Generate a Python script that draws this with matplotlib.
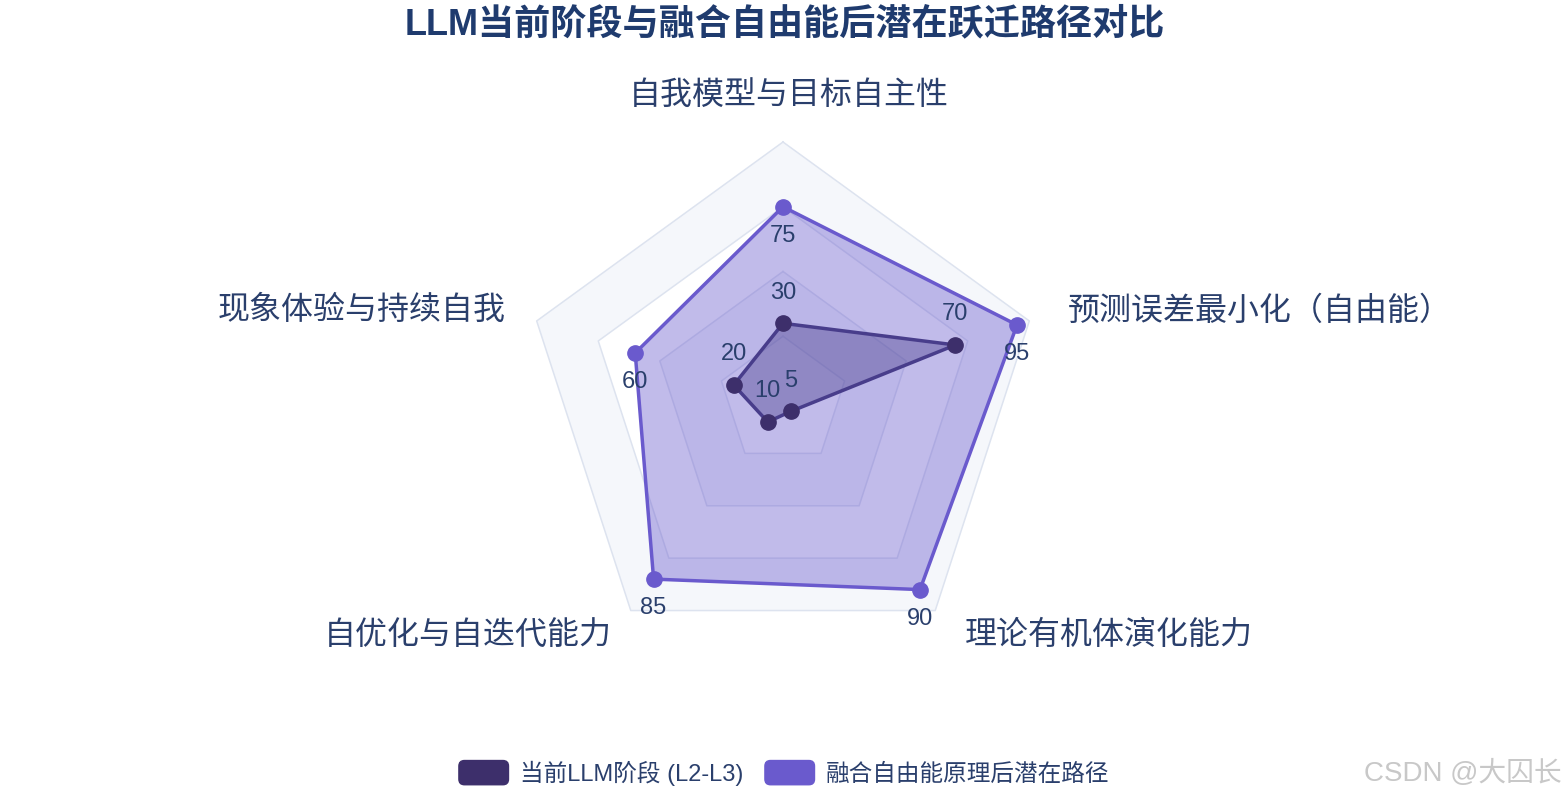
import numpy as np
import matplotlib
matplotlib.use("Agg")
import matplotlib.pyplot as plt
from matplotlib.patches import Patch, FancyBboxPatch
from matplotlib.legend_handler import HandlerPatch

plt.rcParams['font.family'] = ['Liberation Sans', 'Noto Sans CJK SC', 'DejaVu Sans']

# data
categories = ["自我模型与目标自主性", "预测误差最小化（自由能）", "理论有机体演化能力",
              "自优化与自迭代能力", "现象体验与持续自我"]
current = [30, 70, 5, 10, 20]
potential = [75, 95, 90, 85, 60]
series_names = ["当前LLM阶段 (L2-L3)", "融合自由能原理后潜在路径"]
grid_levels = [25, 50, 75, 100]

title = "LLM当前阶段与融合自由能后潜在跃迁路径对比"
text_col = "#2a3f6c"
c_cur_line = "#483d8b"
c_cur_mark = "#3d2f6b"
c_pot = "#6a5acd"

n = len(categories)
theta = np.deg2rad(90 - 72 * np.arange(n))


def to_xy(vals):
    v = np.asarray(vals, dtype=float)
    return v * np.cos(theta), v * np.sin(theta)


fig = plt.figure(figsize=(15.68, 8), dpi=100)
ax = fig.add_axes([0, 0, 1, 1])
scale = 2.59  # pixels per unit
ax.set_xlim(-783 / scale, (1568 - 783) / scale)
ax.set_ylim(-399 / scale, 401 / scale)
ax.axis("off")

# background bands + grid
band_cols = {100: "#f5f7fb", 75: "white", 50: "#f5f7fb", 25: "white"}
for lv in grid_levels[::-1]:
    gx, gy = to_xy([lv] * n)
    ax.fill(gx, gy, color=band_cols[lv], zorder=0, lw=0)
for lv in grid_levels:
    gx, gy = to_xy([lv] * n)
    ax.plot(np.append(gx, gx[0]), np.append(gy, gy[0]), color="#dde3ef", lw=1.1, zorder=1)

# potential series
px, py = to_xy(potential)
ax.fill(px, py, color=c_pot, alpha=0.41, lw=0, zorder=2)
ax.plot(np.append(px, px[0]), np.append(py, py[0]), color=c_pot, lw=2.5, zorder=4)
ax.plot(px, py, "o", color=c_pot, ms=11, zorder=5)

# current series
cx, cy = to_xy(current)
ax.fill(cx, cy, color=c_cur_line, alpha=0.4, lw=0, zorder=3)
ax.plot(np.append(cx, cx[0]), np.append(cy, cy[0]), color=c_cur_line, lw=2.5, zorder=6)
ax.plot(cx, cy, "o", color=c_cur_mark, ms=11, zorder=7)

# value labels
for x, y, v in zip(cx, cy, current):
    ax.annotate(str(v), (x, y), xytext=(0, 22), textcoords="offset points",
                ha="center", va="center", fontsize=17, color=text_col, zorder=8)
for x, y, v in zip(px, py, potential):
    ax.annotate(str(v), (x, y), xytext=(0, -21), textcoords="offset points",
                ha="center", va="center", fontsize=17, color=text_col, zorder=8)

# category labels
ox, oy = to_xy([100] * n)
label_offsets = [(4, 33.5), (28, 7), (21.6, -18), (-13.7, -18), (-22, 7)]
label_ha = ["center", "left", "left", "right", "right"]
for i, cat in enumerate(categories):
    ax.annotate(cat, (ox[i], oy[i]), xytext=label_offsets[i], textcoords="offset points",
                ha=label_ha[i], va="center", fontsize=23, color=text_col)

fig.text(0.5006, 1 - 25 / 800, title, ha="center", va="center", fontsize=26,
         fontweight="bold", color="#1f3b6e")


def rounded(legend, orig_handle, xdescent, ydescent, width, height, fontsize):
    return FancyBboxPatch((-xdescent, -ydescent), width, height,
                          boxstyle="round,pad=0,rounding_size=4")


handles = [Patch(color=c_cur_mark), Patch(color=c_pot)]
fig.legend(handles, series_names, loc="center", bbox_to_anchor=(0.5, 1 - 773 / 800),
           ncol=2, frameon=False, fontsize=17, labelcolor=text_col,
           handlelength=2.1, handleheight=1.2, handletextpad=0.47, columnspacing=0.93,
           handler_map={Patch: HandlerPatch(patch_func=rounded)})

fig.text(1562 / 1568, 1 - 773 / 800, "CSDN @大囚长", ha="right", va="center",
         fontsize=20, color="#c8c8c8")

fig.savefig("out.png", dpi=100)
